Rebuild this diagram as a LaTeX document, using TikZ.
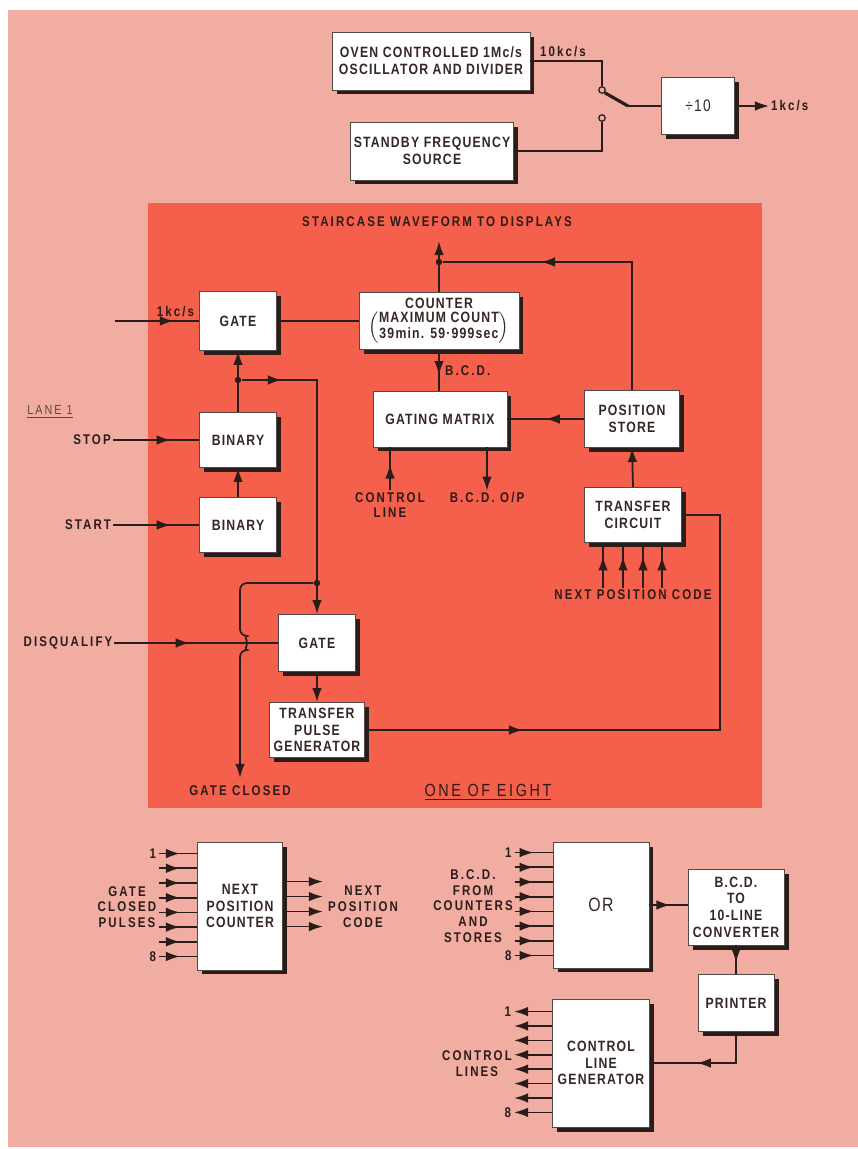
\documentclass[tikz,border=0pt]{standalone}
\usepackage{fontspec}
\setmainfont{Liberation Sans}[FakeStretch=0.82,LetterSpace=8]
\newfontfamily\labfont{Liberation Sans}[FakeStretch=0.82,LetterSpace=15]
\usepackage{tikz}
\usetikzlibrary{arrows.meta,positioning,shadows,decorations.markings,calc}
\definecolor{pagepink}{HTML}{F2ADA3}
\definecolor{panelred}{HTML}{F4604B}
\definecolor{ink}{HTML}{2A1C19}
\tikzset{
  unitbox/.style={
    rectangle, draw=ink!80, fill=white, line width=0.5pt,
    drop shadow={shadow xshift=0.09cm, shadow yshift=-0.09cm, fill=ink, opacity=1},
    font=\fontsize{8.5}{9.5}\selectfont\bfseries, text=ink!95, align=center,
    inner sep=2pt
  },
  lab/.style={font=\labfont\fontsize{8}{9}\selectfont\bfseries, text=ink,
    align=center, inner sep=1pt},
  sig/.style={line width=1pt, draw=ink},
  sigarrow/.style={sig, -{Latex[length=8pt,width=5.5pt]}},
  midsig/.style={sig, postaction={decorate},
    decoration={markings,
      mark=at position #1 with {\arrow{Latex[length=8pt,width=5.5pt]}}}},
  midsig/.default=0.5,
  jdot/.style={circle, fill=ink, inner sep=0pt, minimum size=0.13cm},
  contact/.style={circle, draw=ink, fill=pagepink, line width=0.7pt,
    inner sep=0pt, minimum size=0.13cm},
}

\begin{document}
\begin{tikzpicture}[x=0.02cm, y=-0.02cm]
  \useasboundingbox (0,0) rectangle (858,1149);
  \fill[white] (0,0) rectangle (858,1149);
  \fill[pagepink] (8,10) rectangle (858,1147);
  \fill[panelred] (148,203) rectangle (762,808);

  % Frequency source
  \node[unitbox, minimum width=3.96cm, minimum height=1.16cm] (osc) at (431,61) {OVEN CONTROLLED 1Mc/s\\OSCILLATOR AND DIVIDER};
  \node[unitbox, minimum width=3.2cm, minimum height=1.16cm] (sby) at (432,151) {STANDBY FREQUENCY\\SOURCE};
  \node[unitbox, minimum width=1.46cm, minimum height=1.14cm, font=\fontsize{9.5}{11}\selectfont] (div) at (698,106) {÷10};
  \node[contact] (upc) at (602,90) {};
  \node[contact] (loc) at (602,118) {};
  \coordinate (pivot) at (628,106);
  \draw[sig] (osc.east) -| (upc.north);
  \draw[sig] (sby.east) -| (loc.south);
  \draw[sig, line width=1.8pt] (upc.south east) -- (pivot);
  \draw[sig] (pivot) -- (pivot -| div.west);
  \node[lab, anchor=west] (khz) at (769,106) {1kc/s};
  \draw[sigarrow] (div.east) -- (khz.west);
  \node[lab] at (563,52) {10kc/s};

  % One lane
  \node[lab] (stair) at (437,222) {STAIRCASE WAVEFORM TO DISPLAYS};
  \node[unitbox, minimum width=1.54cm, minimum height=1.18cm] (gate1) at (238,321) {GATE};
  \node[unitbox, minimum width=3.2cm, minimum height=1.14cm] (cnt) at (439,321) {COUNTER\\$\left(\mbox{\begin{tabular}{@{}c@{}}MAXIMUM COUNT\\39min. 59·999sec\end{tabular}}\right)$};
  \node[unitbox, minimum width=1.54cm, minimum height=1.1cm] (bin1) at (238,440) {BINARY};
  \node[unitbox, minimum width=1.54cm, minimum height=1.1cm] (bin2) at (238,525) {BINARY};
  \node[unitbox, minimum width=2.68cm, minimum height=1.12cm] (mtx) at (440,419) {GATING MATRIX};
  \node[unitbox, minimum width=1.9cm, minimum height=1.14cm] (store) at (632,419) {POSITION\\STORE};
  \node[unitbox, minimum width=1.94cm, minimum height=1.1cm] (tc) at (633,515) {TRANSFER\\CIRCUIT};
  \node[unitbox, minimum width=1.54cm, minimum height=1.14cm] (gate2) at (317,643) {GATE};
  \node[unitbox, minimum width=1.9cm, minimum height=1.1cm] (tpg) at (317,730) {TRANSFER\\PULSE\\GENERATOR};
  \node[jdot] (jtop) at (439,262) {};
  \node[jdot] (jb) at (238,380) {};
  \node[jdot] (jg) at (317,583) {};
  \node[lab] (stop) at (92,440) {STOP};
  \node[lab] (start) at (88,525) {START};
  \node[lab] (dq) at (68,643) {DISQUALIFY};
  \node[lab, font=\labfont\fontsize{7.5}{9}\selectfont, text=ink!80] at (50,412) {\underline{LANE 1}};
  \node[lab] (gcl) at (240,791) {GATE CLOSED};
  \node[lab] (ctl) at (390,505) {CONTROL\\LINE};
  \node[lab] (bcdop) at (487,498) {B.C.D. O/P};
  \node[lab] (npcode) at (633,595) {NEXT POSITION CODE};
  \node[lab, font=\labfont\fontsize{10}{12}\selectfont] at (488,792) {\underline{ONE OF EIGHT}};
  \coordinate (kin) at (115,321);
  \draw[midsig=0.7] (kin) -- node[lab, pos=0.72, above=1pt] {1kc/s} (gate1.west);
  \draw[sig] (gate1.east) -- (cnt.west);
  \draw[midsig=0.67] (stop.east) -- (bin1.west);
  \draw[midsig=0.67] (start.east) -- (bin2.west);
  \draw[sigarrow] (bin2.north) -- (bin1.south);
  \draw[sigarrow] (bin1.north) -- (gate1.south);
  \draw[midsig=0.13, -{Latex[length=8pt,width=5.5pt]}] (jb) -| (gate2.north);
  \draw[sigarrow, shorten >=0.24cm] (cnt.north) -- (cnt.north |- stair.south);
  \draw[midsig=0.69] (store.north) |- (jtop);
  \draw[midsig=0.62] (cnt.south) -- node[lab, right=2pt] {B.C.D.} (cnt.south |- mtx.north);
  \draw[midsig=0.5] (store.west) -- (mtx.east);
  \draw[midsig=0.6] (ctl.north) -- (ctl.north |- mtx.south);
  \draw[sigarrow] (bcdop.north |- mtx.south) -- (bcdop.north);
  \draw[sigarrow] (tc.north) -- (store.south);
  \foreach \dx in {-30,-10,10,29}
    \draw[midsig=0.7] ([xshift=\dx*0.02cm]tc.south |- npcode.north) -- ([xshift=\dx*0.02cm]tc.south);
  \draw[midsig=0.46] (dq.east) -- (dq.east -| gate2.west);
  \draw[sigarrow] (gate2.south) -- (tpg.north);
  \draw[midsig=0.26] (tpg.east) -| ([xshift=0.76cm]tc.east) -- (tc.east);
  \draw[sigarrow, rounded corners=4pt] (jg) -- (jg -| gcl.north) -- ([yshift=0.14cm]gcl.north |- gate2.west) arc[start angle=90, end angle=-90, radius=0.14cm] -- ([yshift=0.12cm]gcl.north);

  % Next position counter
  \node[unitbox, minimum width=1.7cm, minimum height=2.56cm] (npc) at (240,906) {NEXT\\POSITION\\COUNTER};
  \foreach \i in {0,...,7}
    \draw[midsig=0.55] ([shift={(-38,12+\i*14.7)}]npc.north west) -- ([shift={(0,12+\i*14.7)}]npc.north west);
  \node[lab, anchor=east] at ([shift={(-39,12)}]npc.north west) {1};
  \node[lab, anchor=east] at ([shift={(-39,115)}]npc.north west) {8};
  \node[lab] at (127,907) {GATE\\CLOSED\\PULSES};
  \foreach \i in {0,...,3}
    \draw[sigarrow] ([shift={(0,40+\i*15)}]npc.north east) -- ++(40,0);
  \node[lab] at (363,907) {NEXT\\POSITION\\CODE};

  % Print out
  \node[unitbox, minimum width=1.92cm, minimum height=2.52cm, font=\fontsize{11}{12}\selectfont] (orbox) at (601,905) {OR};
  \node[unitbox, minimum width=1.92cm, minimum height=1.52cm] (conv) at (736,907) {B.C.D.\\TO\\10-LINE\\CONVERTER};
  \node[unitbox, minimum width=1.52cm, minimum height=1.14cm] (prn) at (736,1003) {PRINTER};
  \node[unitbox, minimum width=1.94cm, minimum height=2.56cm] (clg) at (601,1063) {CONTROL\\LINE\\GENERATOR};
  \foreach \i in {0,...,7}
    \draw[midsig=0.5] ([shift={(-38,11+\i*14.7)}]orbox.north west) -- ([shift={(0,11+\i*14.7)}]orbox.north west);
  \node[lab, anchor=east] at ([shift={(-39,11)}]orbox.north west) {1};
  \node[lab, anchor=east] at ([shift={(-39,114)}]orbox.north west) {8};
  \node[lab] at (473,906) {B.C.D.\\FROM\\COUNTERS\\AND\\STORES};
  \draw[midsig=0.55] (orbox.east) -- (orbox.east -| conv.west);
  \draw[midsig=0.6] (conv.south) -- (prn.north);
  \draw[midsig=0.6] (prn.south) |- (clg.east);
  \foreach \i in {0,...,7}
    \draw[sigarrow] ([shift={(0,13+\i*14.4)}]clg.north west) -- ++(-38,0);
  \node[lab, anchor=east] at ([shift={(-39,13)}]clg.north west) {1};
  \node[lab, anchor=east] at ([shift={(-39,114)}]clg.north west) {8};
  \node[lab] at (477,1064) {CONTROL\\LINES};
\end{tikzpicture}
\end{document}
